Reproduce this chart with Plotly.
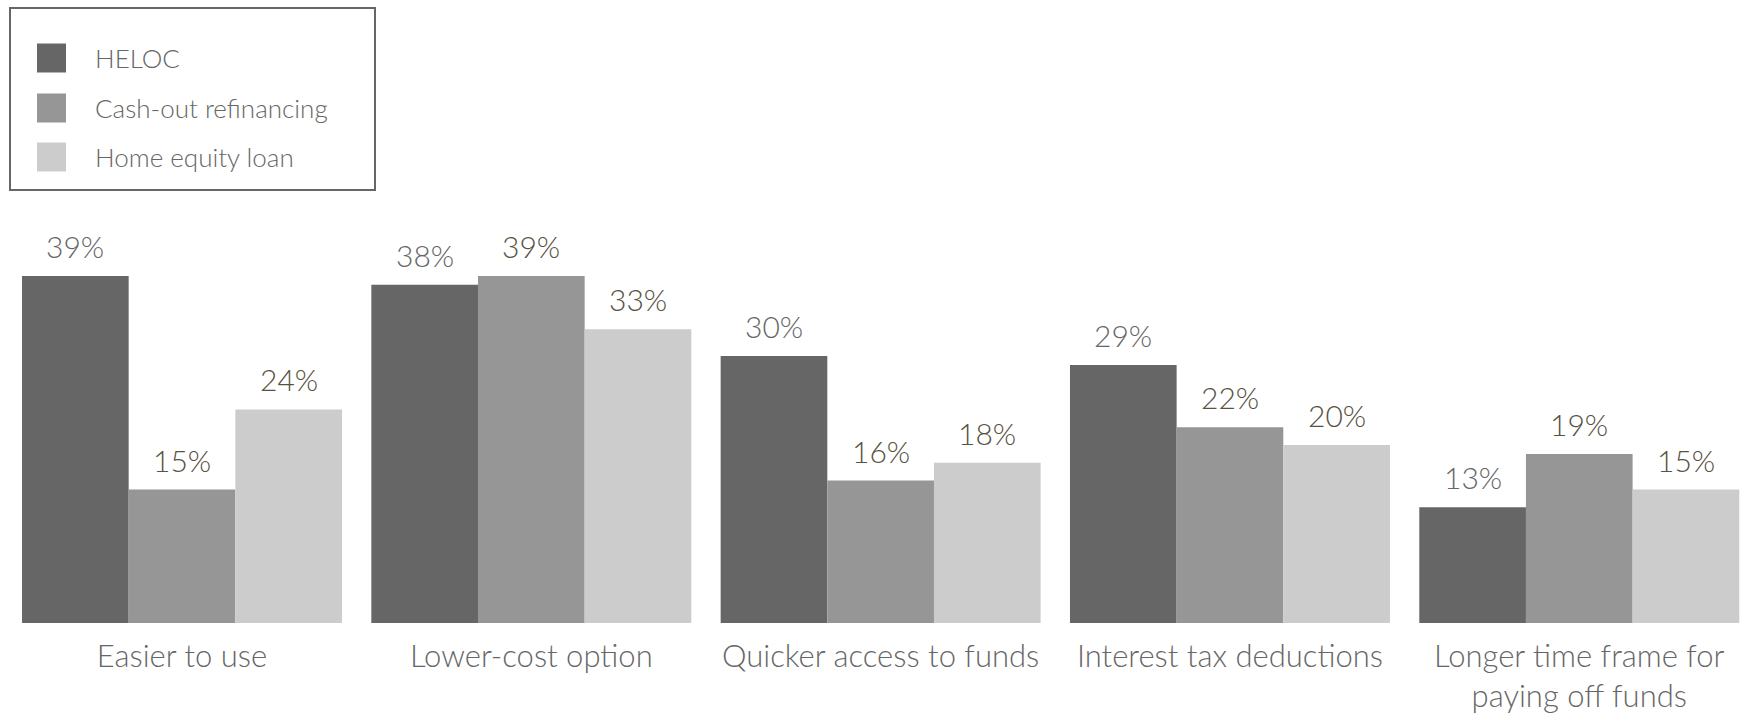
import plotly.graph_objects as go

categories = ["Easier to use", "Lower-cost option", "Quicker access to funds",
              "Interest tax deductions", "Longer time frame for<br>paying off funds"]
series_names = ["HELOC", "Cash-out refinancing", "Home equity loan"]
heloc = [39, 38, 30, 29, 13]
cashout = [15, 39, 16, 22, 19]
home_equity = [24, 33, 18, 20, 15]
series_values = [heloc, cashout, home_equity]
colors = ["#666666", "#969696", "#cccccc"]
label_colors = ["#666666", "#57513f", "#57513f"]

FONT = "Lato"
WEIGHT = 300
W, H = 1748, 716
BARGAP = 0.084
MB = 93
PLOT_H = H - MB

fig = go.Figure()
for name, vals, col in zip(series_names, series_values, colors):
    fig.add_trace(go.Bar(x=list(range(len(categories))), y=vals, name=name,
                         marker=dict(color=col, line=dict(width=0)),
                         showlegend=False))

# value labels placed above each bar (grouped offsets from bargap)
bw = (1 - BARGAP) / len(series_names)
for j, (vals, lc) in enumerate(zip(series_values, label_colors)):
    for i, v in enumerate(vals):
        fig.add_annotation(x=i + (j - 1) * bw, y=v, xref="x", yref="y",
                           text=f"{v}%", showarrow=False, yanchor="middle",
                           yshift=30, font=dict(family=FONT, size=30, color=lc, weight=WEIGHT))

# manual legend (large square swatches)
def px_x(p):
    return p / W

def px_y(p):
    return 1 - p / PLOT_H

fig.add_shape(type="rect", xref="paper", yref="paper",
              x0=px_x(10), x1=px_x(375), y0=px_y(190), y1=px_y(8),
              line=dict(color="#666666", width=2), fillcolor="rgba(0,0,0,0)")
row_centers = [58, 108, 157]
for name, col, cy in zip(series_names, colors, row_centers):
    fig.add_shape(type="rect", xref="paper", yref="paper",
                  x0=px_x(37), x1=px_x(66), y0=px_y(cy + 14.5), y1=px_y(cy - 14.5),
                  line=dict(width=0), fillcolor=col)
    fig.add_annotation(x=px_x(93), y=px_y(cy), xref="paper", yref="paper",
                       text=name, showarrow=False, xanchor="left", yanchor="middle",
                       font=dict(family=FONT, size=26, color="#666666", weight=WEIGHT))

fig.update_layout(
    width=W, height=H,
    margin=dict(l=0, r=0, t=0, b=MB, autoexpand=False),
    barmode="group", bargap=BARGAP, bargroupgap=0,
    plot_bgcolor="white", paper_bgcolor="white",
    showlegend=False,
    font=dict(family=FONT, color="#666666"),
    xaxis=dict(tickmode="array", tickvals=list(range(len(categories))),
               ticktext=categories, range=[-0.521, 4.483],
               showgrid=False, zeroline=False, showline=False, ticks="",
               automargin=False, ticklabelstandoff=12,
               tickfont=dict(family=FONT, size=31, color="#666666", weight=WEIGHT)),
    yaxis=dict(range=[0, 70], visible=False, showgrid=False, zeroline=False,
               automargin=False),
)

fig.write_html("out.html")
